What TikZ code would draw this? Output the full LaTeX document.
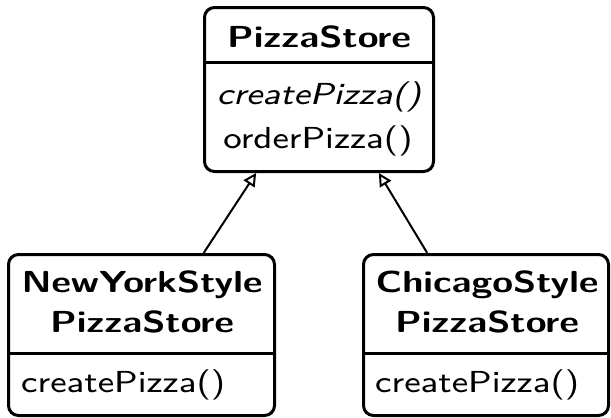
\documentclass[tikz,border=0pt]{standalone}
\usetikzlibrary{arrows.meta,calc}
% text is set at 8pt and enlarged, wider than tall
\newcommand\regtext[1]{\scalebox{4.35}[3.8]{#1}}
\newcommand\heavytext[1]{\scalebox{4.73}[3.8]{#1}}
\begin{document}
\begin{tikzpicture}[x=1pt,y=-1pt,
  classbox/.style={draw, line width=3pt, rounded corners=10pt, inner sep=0pt},
  divider/.style={line width=3pt},
  titletext/.style={font=\fontsize{8}{40}\selectfont\sffamily\bfseries, align=center, anchor=base, inner sep=0pt},
  optext/.style={font=\fontsize{8}{40}\selectfont\sffamily, anchor=base, inner sep=0pt},
  abstracttext/.style={optext, font=\fontsize{8}{40}\selectfont\sffamily\itshape},
  inherits/.style={line width=2pt, -{Triangle[open, length=13pt, width=13pt, line width=2pt]}}
]
\useasboundingbox (0,0) rectangle (611,418);

% abstract creator
\node[classbox, minimum width=229pt, minimum height=164pt] (store) at (319,89.5) {};
\draw[divider] (store.west |- 0,62) -- (store.east |- 0,62);
\node[titletext] (storetitle) at (319,47) {\heavytext{PizzaStore}};
\node[abstracttext] (storecreate) at (319,104) {\regtext{createPizza()}};
\node[optext] (storeorder) at (318,148) {\regtext{orderPizza()}};

% concrete creators
\node[classbox, minimum width=266pt, minimum height=161pt] (ny) at (141.5,335) {};
\draw[divider] (ny.west |- 0,353) -- (ny.east |- 0,353);
\node[titletext] (nytitle) at (142,332) {\heavytext{NewYorkStyle}\\\heavytext{PizzaStore}};
\node[optext, anchor=base west] (nycreate) at (21,392) {\regtext{createPizza()}};

\node[classbox, minimum width=245pt, minimum height=161pt] (chi) at (486,335) {};
\draw[divider] (chi.west |- 0,353) -- (chi.east |- 0,353);
\node[titletext] (chititle) at (487,332) {\heavytext{ChicagoStyle}\\\heavytext{PizzaStore}};
\node[optext, anchor=base west] (chicreate) at (375,392) {\regtext{createPizza()}};

% generalisation arrows
\draw[inherits] ($(ny.north west)!0.731!(ny.north east)$) -- ($(store.south west)!0.229!(store.south east)$);
\draw[inherits] ($(chi.north west)!0.263!(chi.north east)$) -- ($(store.south west)!0.758!(store.south east)$);
\end{tikzpicture}
\end{document}
